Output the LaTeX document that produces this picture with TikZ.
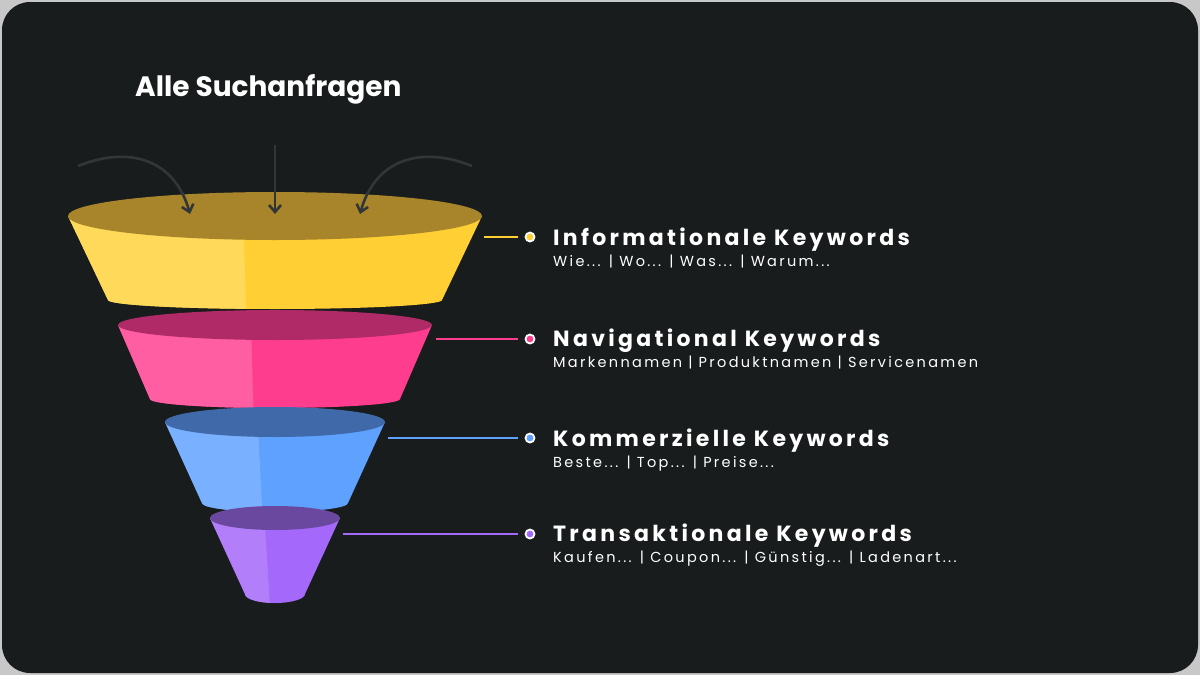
\documentclass[tikz,border=0pt]{standalone}
\usepackage{fontspec}
\setmainfont{Poppins}
\newfontfamily\headfont[LetterSpace=15]{Poppins}
\newfontfamily\subfont[LetterSpace=16]{Poppins}
\usetikzlibrary{positioning, arrows.meta}
\definecolor{bgdark}{HTML}{181C1C}
\definecolor{frame}{HTML}{C8C8C8}
\definecolor{ylwTop}{HTML}{A8852A}
\definecolor{ylwL}{HTML}{FFD95A}
\definecolor{ylwR}{HTML}{FFCF33}
\definecolor{pnkTop}{HTML}{B02A68}
\definecolor{pnkL}{HTML}{FF5FA2}
\definecolor{pnkR}{HTML}{FF3D8F}
\definecolor{bluTop}{HTML}{3F69A8}
\definecolor{bluL}{HTML}{79B0FF}
\definecolor{bluR}{HTML}{5EA1FF}
\definecolor{prpTop}{HTML}{6B48A0}
\definecolor{prpL}{HTML}{B27EFA}
\definecolor{prpR}{HTML}{A468FB}
\definecolor{arrowgray}{HTML}{333636}
\tikzset{
  dotmark/.style={circle, fill=#1, draw=white, line width=1.8pt, inner sep=0pt, minimum size=9pt},
  lead/.style={draw=#1, line width=1.6pt},
  headline/.style={anchor=base west, inner sep=0pt, text=white, font=\headfont\bfseries\fontsize{22}{24}\selectfont},
  subline/.style={anchor=base west, inner sep=0pt, text=white, font=\subfont\fontsize{14.5}{16}\selectfont},
  inflow/.style={draw=arrowgray, line width=2.6pt, -{Straight Barb[length=7pt, width=12pt]}},
}
% one funnel tier: center x, top y, top rx, top ry, bottom y, bottom rx, colours
\newcommand{\tier}[8]{%
  \fill[#8] (#1-#3,#2) -- (#1-#6,#5) arc[start angle=180, end angle=0, x radius=#6, y radius=9] -- (#1+#3,#2) -- cycle;
  \fill[#7] (#1-#3,#2) -- (#1-#6,#5) arc[start angle=180, end angle=100, x radius=#6, y radius=9]
     -- (#1-0.15*#3,#2+#4) -- cycle;
}
\newcommand{\tiertop}[5]{\fill[#5] (#1,#2) ellipse[x radius=#3, y radius=#4];}
\begin{document}
\begin{tikzpicture}[x=1pt, y=-1pt]
\fill[frame] (0,0) rectangle (1200,675);
\fill[bgdark, rounded corners=28pt] (2,2) rectangle (1198,673);
\useasboundingbox (0,0) rectangle (1200,675);

\node[anchor=base west, inner sep=0pt, text=white, font=\bfseries\fontsize{28}{30}\selectfont] (title) at (135,96) {Alle Suchanfragen};

%% funnel tiers
\tier{275}{216}{207}{24}{300}{167}{ylwL}{ylwR}
\tiertop{275}{216}{207}{24}{ylwTop}
\tier{275}{325}{157}{15}{399}{125}{pnkL}{pnkR}
\tiertop{275}{325}{157}{15}{pnkTop}
\tier{275}{422}{110}{15}{503}{73}{bluL}{bluR}
\tiertop{275}{422}{110}{15}{bluTop}
\tier{275}{518}{65}{12}{594}{30}{prpL}{prpR}
\tiertop{275}{518}{65}{12}{prpTop}

%% inflow arrows
\coordinate (srcL) at (78,166);
\coordinate (srcM) at (275,145);
\coordinate (srcR) at (472,166);
\coordinate (dstL) at (190,214);
\coordinate (dstM) at (275,214);
\coordinate (dstR) at (360,214);
\draw[inflow] (srcL) .. controls (130,145) and (175,160) .. (dstL);
\draw[inflow] (srcM) -- (dstM);
\draw[inflow] (srcR) .. controls (420,145) and (375,160) .. (dstR);

%% labels
\node[dotmark=ylwR] (dotInfo) at (530,237) {};
\node[dotmark=pnkR] (dotNav) at (530,339) {};
\node[dotmark=bluR] (dotKom) at (530,438) {};
\node[dotmark=prpR] (dotTrans) at (530,534) {};
\coordinate (endInfo) at (484,237);
\coordinate (endNav) at (436,339);
\coordinate (endKom) at (388,438);
\coordinate (endTrans) at (343,534);
\draw[lead=ylwR] (endInfo) -- ([xshift=-12pt]dotInfo.center);
\draw[lead=pnkR] (endNav) -- ([xshift=-12pt]dotNav.center);
\draw[lead=bluR] (endKom) -- ([xshift=-12pt]dotKom.center);
\draw[lead=prpR] (endTrans) -- ([xshift=-12pt]dotTrans.center);

\node[headline] (hInfo) at (553,245) {Informationale Keywords};
\node[subline] (sInfo) at (553,266) {Wie... | Wo... | Was... | Warum...};
\node[headline] (hNav) at (553,346) {Navigational Keywords};
\node[subline] (sNav) at (553,367) {Markennamen | Produktnamen | Servicenamen};
\node[headline] (hKom) at (553,446) {Kommerzielle Keywords};
\node[subline] (sKom) at (553,467) {Beste... | Top... | Preise...};
\node[headline] (hTrans) at (553,541) {Transaktionale Keywords};
\node[subline] (sTrans) at (553,562) {Kaufen... | Coupon... | Günstig... | Ladenart...};
\end{tikzpicture}
\end{document}
